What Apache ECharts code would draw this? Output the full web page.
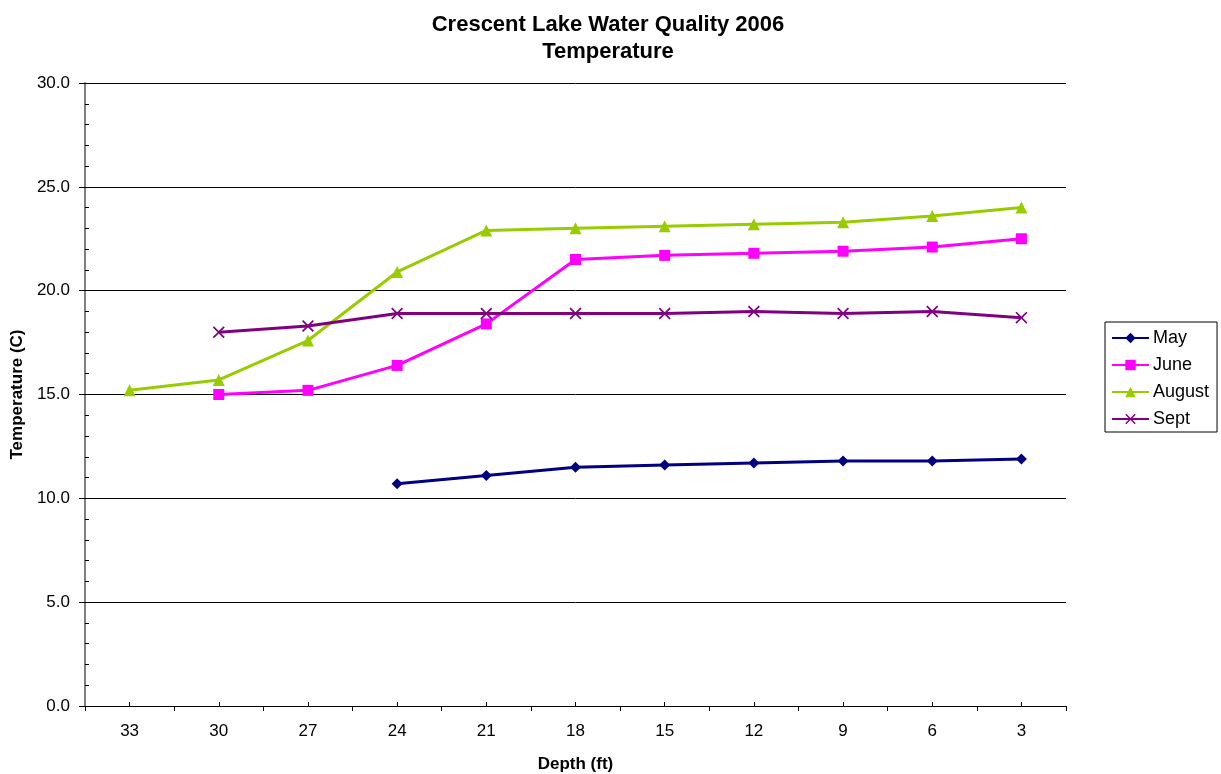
<!DOCTYPE html>
<html>
<head>
<meta charset="utf-8">
<title>Crescent Lake Water Quality 2006 - Temperature</title>
<script src="https://cdn.jsdelivr.net/npm/echarts@6/dist/echarts.min.js"></script>
<style>
  html, body { margin: 0; padding: 0; background: #fff; }
  #chart { width: 1221px; height: 774px; }
</style>
</head>
<body>
<div id="chart"></div>
<script>
// Depth categories (ft), shallowest on the right
const depths = ['33', '30', '27', '24', '21', '18', '15', '12', '9', '6', '3'];

// Temperature readings (C) by month; null where no reading was taken
const may    = [null, null, null, 10.7, 11.1, 11.5, 11.6, 11.7, 11.8, 11.8, 11.9];
const june   = [null, 15.0, 15.2, 16.4, 18.4, 21.5, 21.7, 21.8, 21.9, 22.1, 22.5];
const august = [15.2, 15.7, 17.6, 20.9, 22.9, 23.0, 23.1, 23.2, 23.3, 23.6, 24.0];
const sept   = [null, 18.0, 18.3, 18.9, 18.9, 18.9, 18.9, 19.0, 18.9, 19.0, 18.7];

const FONT = '"Liberation Sans", Arial, sans-serif';
const crossPath = 'path://M0,1L1,0L5,4L9,0L10,1L6,5L10,9L9,10L5,6L1,10L0,9L4,5Z';

function lineSeries(name, data, color, symbol, size) {
  return {
    name: name,
    type: 'line',
    data: data,
    xAxisIndex: 0,
    yAxisIndex: 0,
    symbol: symbol,
    symbolSize: size,
    showAllSymbol: true,
    connectNulls: false,
    lineStyle: { color: color, width: 3 },
    itemStyle: { color: color, opacity: 1 },
    emphasis: { disabled: true },
    animation: false
  };
}

const chart = echarts.init(document.getElementById('chart'), null, { renderer: 'canvas' });

chart.setOption({
  backgroundColor: '#ffffff',
  animation: false,
  title: {
    text: 'Crescent Lake Water Quality 2006\nTemperature',
    left: 603,
    textAlign: 'center',
    top: 6,
    textStyle: {
      fontFamily: FONT,
      fontSize: 22,
      fontWeight: 'bold',
      color: '#000',
      lineHeight: 27
    }
  },
  legend: {
    orient: 'vertical',
    left: 1105,
    top: 322,
    data: ['May', 'June', 'August', 'Sept'],
    itemWidth: 37,
    itemHeight: 13,
    itemGap: 9,
    padding: [7, 8, 4, 6],
    borderColor: '#000',
    borderWidth: 1,
    textStyle: { fontFamily: FONT, fontSize: 18, color: '#000', padding: [0, 0, 0, -1] },
    selectedMode: false
  },
  grid: {
    left: 85,
    right: 155,
    top: 83,
    bottom: 68,
    containLabel: false,
    outerBoundsMode: 'none'
  },
  xAxis: [
    {
      type: 'category',
      data: depths,
      boundaryGap: true,
      name: 'Depth (ft)',
      nameLocation: 'middle',
      nameGap: 50,
      nameTextStyle: { fontFamily: FONT, fontSize: 17, fontWeight: 'bold', color: '#000' },
      axisLine: { show: true, lineStyle: { color: '#000', width: 1 } },
      axisTick: { show: true, alignWithLabel: false, inside: false, length: 5, lineStyle: { color: '#000' } },
      axisLabel: { fontFamily: FONT, fontSize: 17, color: '#000', margin: 17 },
      splitLine: { show: false }
    },
    {
      // short inward ticks at each category centre
      type: 'category',
      data: depths,
      position: 'bottom',
      boundaryGap: true,
      axisLine: { show: false },
      axisTick: { show: true, alignWithLabel: true, inside: true, length: 4, lineStyle: { color: '#000' } },
      axisLabel: { show: false },
      splitLine: { show: false }
    }
  ],
  yAxis: [
    {
      type: 'value',
      min: 0,
      max: 30,
      interval: 5,
      position: 'left',
      name: 'Temperature (C)',
      nameLocation: 'middle',
      nameGap: 58,
      nameRotate: 90,
      nameTextStyle: { fontFamily: FONT, fontSize: 17, fontWeight: 'bold', color: '#000' },
      axisLine: { show: true, lineStyle: { color: '#808080', width: 2 } },
      axisTick: { show: true, inside: false, length: 6, lineStyle: { color: '#000' } },
      axisLabel: {
        fontFamily: FONT, fontSize: 17, color: '#000', margin: 15,
        formatter: v => v.toFixed(1)
      },
      splitLine: { show: true, lineStyle: { color: '#000', width: 1 } }
    },
    {
      // minor inward ticks every degree
      type: 'value',
      min: 0,
      max: 30,
      interval: 1,
      position: 'left',
      offset: 0,
      axisLine: { show: false },
      axisTick: { show: true, inside: true, length: 4, lineStyle: { color: '#000' } },
      axisLabel: { show: false },
      splitLine: { show: false }
    }
  ],
  series: [
    lineSeries('May', may, '#000080', 'diamond', 11),
    lineSeries('June', june, '#FF00FF', 'rect', 11),
    lineSeries('August', august, '#99CC00', 'triangle', 12),
    lineSeries('Sept', sept, '#800080', crossPath, 12)
  ]
});
</script>
</body>
</html>
